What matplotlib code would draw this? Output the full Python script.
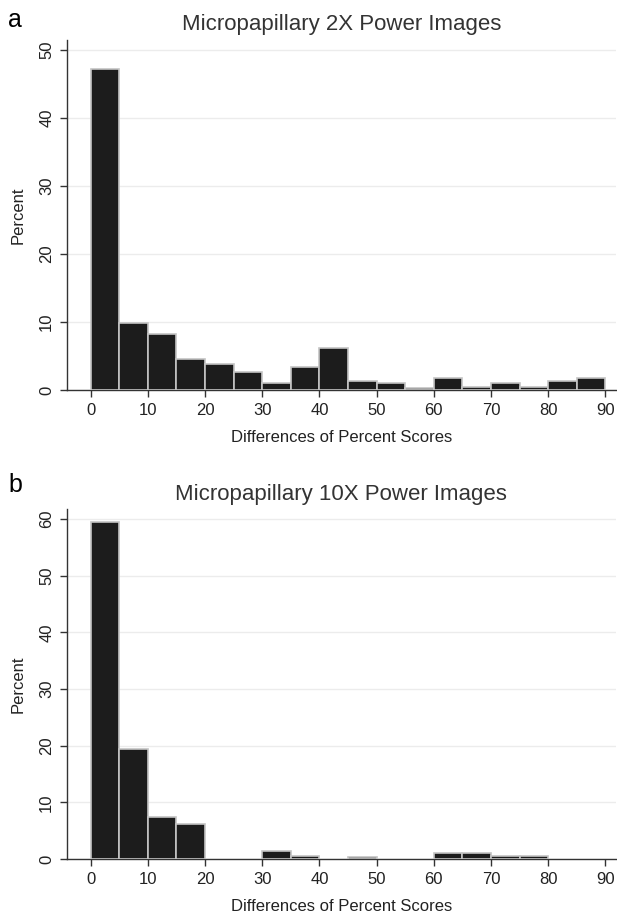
import numpy as np
import matplotlib.pyplot as plt

plt.rcParams["font.family"] = ["Liberation Sans", "DejaVu Sans"]

# bin left edges (width 5) and percent per bin
bin_left = np.arange(0, 90, 5)
pct_2x = [47.2, 9.9, 8.2, 4.6, 3.9, 2.6, 1.0, 3.4, 6.2, 1.4,
          1.0, 0.3, 1.8, 0.5, 1.0, 0.5, 1.4, 1.8]
pct_10x = [59.5, 19.5, 7.4, 6.2, 0, 0, 1.5, 0.6, 0, 0.3,
           0, 0, 1.1, 1.1, 0.6, 0.6, 0, 0]

titles = ["Micropapillary 2X Power Images", "Micropapillary 10X Power Images"]
panel_labels = ["a", "b"]
yticks = [np.arange(0, 51, 10), np.arange(0, 61, 10)]
ytops = [51.5, 61.7]

fig = plt.figure(figsize=(6.17, 9.13), dpi=100)
rects = [[0.108, 0.5728, 0.890, 0.3834], [0.108, 0.0591, 0.890, 0.383]]

for i, vals in enumerate([pct_2x, pct_10x]):
    ax = fig.add_axes(rects[i])
    v = np.array(vals, dtype=float)
    keep = v > 0
    ax.bar(bin_left[keep], v[keep], width=5, align="edge",
           color="#1c1c1c", edgecolor="#c4c4c4", linewidth=1.2, zorder=3)
    ax.set_xlim(-4.2, 91.8)
    ax.set_ylim(0, ytops[i])
    ax.set_xticks(np.arange(0, 91, 10))
    ax.set_yticks(yticks[i])
    ax.set_yticklabels([str(t) for t in yticks[i]], rotation=90, va="center")
    ax.tick_params(axis="both", labelsize=12, color="#333333", length=5,
                   width=1, labelcolor="#222222")
    ax.tick_params(axis="x", pad=4)
    ax.tick_params(axis="y", pad=4)
    ax.grid(axis="y", color="#ececec", linewidth=1, zorder=0)
    for s in ["top", "right"]:
        ax.spines[s].set_visible(False)
    for s in ["left", "bottom"]:
        ax.spines[s].set_color("#333333")
        ax.spines[s].set_linewidth(1)
    ax.set_title(titles[i], fontsize=16, color="#333333", pad=7)
    ax.set_xlabel("Differences of Percent Scores", fontsize=12, color="#222222", labelpad=9)
    ax.set_ylabel("Percent", fontsize=12, color="#222222", labelpad=10)

fig.text(0.013, 0.978, panel_labels[0], fontsize=18, va="center", ha="left")
fig.text(0.013, 0.469, panel_labels[1], fontsize=18, va="center", ha="left")

fig.savefig("out.png", dpi=100)
